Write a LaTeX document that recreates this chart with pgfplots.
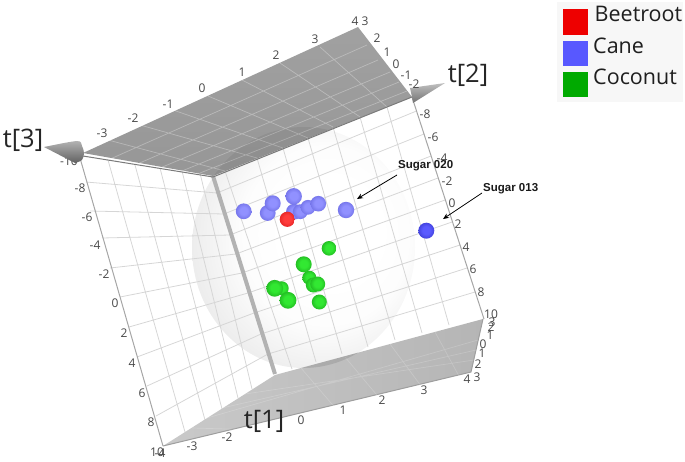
\documentclass[border=0pt]{standalone}
\usepackage{pgfplots}
\pgfplotsset{compat=1.18}
\usepackage{fontspec}
\setmainfont{Open Sans}
\newfontfamily\lab{Liberation Sans}
\definecolor{gridc}{gray}{0.84}
\definecolor{canein}{RGB}{145,145,255}
\definecolor{caneout}{RGB}{105,105,225}
\definecolor{bluein}{RGB}{90,90,255}
\definecolor{blueout}{RGB}{55,55,205}
\definecolor{greenin}{RGB}{50,232,50}
\definecolor{greenout}{RGB}{28,170,28}
\definecolor{redin}{RGB}{255,60,60}
\definecolor{redout}{RGB}{220,30,30}
\definecolor{sp0}{gray}{1}
\definecolor{sp1}{gray}{0.99}
\definecolor{sp2}{gray}{0.92}
\definecolor{sp3}{gray}{0.82}
\pgfdeclareradialshading{sph}{\pgfpoint{8bp}{4bp}}{color(0bp)=(sp0); color(11bp)=(sp0); color(19bp)=(sp1); color(30bp)=(sp2); color(39bp)=(sp3); color(50bp)=(sp3)}
\pgfdeclareradialshading{caneS}{\pgfpoint{0bp}{2bp}}{color(0bp)=(canein); color(12bp)=(canein); color(32bp)=(caneout); color(50bp)=(caneout)}
\pgfdeclareradialshading{blueS}{\pgfpoint{0bp}{2bp}}{color(0bp)=(bluein); color(12bp)=(bluein); color(32bp)=(blueout); color(50bp)=(blueout)}
\pgfdeclareradialshading{greenS}{\pgfpoint{0bp}{2bp}}{color(0bp)=(greenin); color(12bp)=(greenin); color(32bp)=(greenout); color(50bp)=(greenout)}
\pgfdeclareradialshading{redS}{\pgfpoint{0bp}{2bp}}{color(0bp)=(redin); color(12bp)=(redin); color(32bp)=(redout); color(50bp)=(redout)}
\pgfdeclareplotmark{caneB}{\pgfpathcircle{\pgfpointorigin}{\pgfplotmarksize}\pgfshadepath{caneS}{0}\pgfusepath{discard}}
\pgfdeclareplotmark{blueB}{\pgfpathcircle{\pgfpointorigin}{\pgfplotmarksize}\pgfshadepath{blueS}{0}\pgfusepath{discard}}
\pgfdeclareplotmark{greenB}{\pgfpathcircle{\pgfpointorigin}{\pgfplotmarksize}\pgfshadepath{greenS}{0}\pgfusepath{discard}}
\pgfdeclareplotmark{redB}{\pgfpathcircle{\pgfpointorigin}{\pgfplotmarksize}\pgfshadepath{redS}{0}\pgfusepath{discard}}
\usetikzlibrary{arrows.meta}
\tikzset{
 tk/.style={font=\fontsize{12}{12}\selectfont,text=black!72,inner sep=0pt},
 big/.style={font=\fontsize{25.5}{26}\selectfont,text=black!85,inner sep=0pt},
 leg/.style={font=\fontsize{21.5}{22}\selectfont,text=black!88,inner sep=0pt,anchor=west},
 sug/.style={font=\lab\bfseries\fontsize{11.5}{12}\selectfont,text=black!90,inner sep=0pt,anchor=west},
 arr/.style={draw=black,line width=0.8pt,-{Stealth[length=6pt,width=5pt]}}
}
\begin{document}
\begin{tikzpicture}
\begin{axis}[
  scale only axis, width=685pt, height=461pt,
  xmin=0, xmax=685, ymin=0, ymax=461, y dir=reverse,
  hide axis, clip=false, unbounded coords=jump,
  every axis plot/.append style={forget plot}
]
\addplot[draw=none] coordinates {(0,0)(685,461)};
% legend panel
\addplot[draw=none,fill=black!3] coordinates {(557,2)(683,2)(683,102)(557,102)} -- cycle;
% sphere body, behind the grids
\shade[shading=sph] (axis cs:303.5,247.5) ellipse [x radius=111.5pt, y radius=120.5pt];
% left wall grid
\addplot[gridc,line width=0.8pt] coordinates {
 (86,182)(217,193) (nan,nan)
 (90,211)(224,214) (nan,nan)
 (102,238)(230,235) (nan,nan)
 (110,268)(236,254) (nan,nan)
 (120,297)(242,273) (nan,nan)
 (129,327)(248,293) (nan,nan)
 (137,357)(254,313) (nan,nan)
 (147,386)(261,334) (nan,nan)
 (156,416)(268,354) (nan,nan)
 (108,160)(185,432) (nan,nan)
 (135,165)(205,420) (nan,nan)
 (160,168)(222,409) (nan,nan)
 (182,171)(238,398) (nan,nan)
 (200,173)(252,389)
};
% right wall grid
\addplot[gridc,line width=0.8pt] coordinates {
 (217,193)(416.5,111) (nan,nan)
 (224,214)(424,134) (nan,nan)
 (230,235)(431,156) (nan,nan)
 (236,254)(438,178) (nan,nan)
 (242,273)(445,200) (nan,nan)
 (248,293)(452,222) (nan,nan)
 (254,313)(460,245) (nan,nan)
 (261,334)(467,268) (nan,nan)
 (268,354)(475,292) (nan,nan)
 (225,171)(292,369) (nan,nan)
 (257,158)(316,362) (nan,nan)
 (283,148)(342,354) (nan,nan)
 (308,138)(368,347) (nan,nan)
 (333,127)(395,340) (nan,nan)
 (360,117)(422,333) (nan,nan)
 (387,107)(449,325)
};
% wall edges
\addplot[black!35,line width=1pt] coordinates {(80,158)(163,446)};
\addplot[black!35,line width=1pt] coordinates {(412,97)(484,319)};
% bar between the walls
\addplot[black!30,line width=4pt] coordinates {(213,176)(275,374)};
% bottom plane
\addplot[draw=none,left color=black!21,right color=black!29] coordinates {(163,446)(275,375)(483,319)(471,372)} -- cycle;
\addplot[black!38,line width=1pt] coordinates {(163,446)(471,372)(483,319)};
\addplot[white,opacity=0.18,line width=0.7pt] coordinates {
 (192,428)(263,430) (nan,nan) (301,368)(337,410) (nan,nan) (345,357)(381,400) (nan,nan) (390,344)(424,390) (nan,nan) (435,332)(460,378) (nan,nan)
 (200,420)(478,340) (nan,nan) (222,408)(476,350) (nan,nan) (245,394)(474,360)
};
% top plane
\addplot[draw=none,top color=black!37,bottom color=black!41] coordinates {(83,153)(358,27)(412,97)(213,176)} -- cycle;
\addplot[white,opacity=0.3,line width=0.7pt] coordinates {
 (108,140)(225,171) (nan,nan)
 (140,125)(257,158) (nan,nan)
 (173,110)(283,148) (nan,nan)
 (208,96)(308,138) (nan,nan)
 (242,80)(333,127) (nan,nan)
 (280,63)(360,117) (nan,nan)
 (320,47)(387,107) (nan,nan)
 (108,160)(367,45) (nan,nan)
 (135,165)(378,60) (nan,nan)
 (160,168)(390,72) (nan,nan)
 (182,171)(399,82) (nan,nan)
 (200,173)(407,91)
};
\addplot[black!52,line width=1pt] coordinates {(83,156)(213,177)(412,97)};
% the sphere showing through the planes
\begin{scope}
 \clip (axis cs:83,153)--(axis cs:358,27)--(axis cs:412,97)--(axis cs:213,176)--cycle;
 \fill[black,opacity=0.06] (axis cs:303.5,247.5) ellipse [x radius=111.5pt, y radius=120.5pt];
\end{scope}
\begin{scope}
 \clip (axis cs:163,446)--(axis cs:275,375)--(axis cs:483,319)--(axis cs:471,372)--cycle;
 \fill[black,opacity=0.1] (axis cs:303.5,247.5) ellipse [x radius=111.5pt, y radius=120.5pt];
\end{scope}
% tick labels
\node[tk] at (axis cs:69,161) {-10};
% axis cones
\addplot[draw=none,top color=black!30,bottom color=black!62,smooth] coordinates {(44,147)(77,141)(82,146)(84,153)(82,160)(75,163)} -- cycle;
\addplot[draw=none,top color=black!25,bottom color=black!55] coordinates {(445,83)(410,88)(412,97)(413,103)} -- cycle;
\node[tk] at (axis cs:102,133) {-3};\node[tk] at (axis cs:133,118) {-2};\node[tk] at (axis cs:168,104) {-1};
\node[tk] at (axis cs:202,88) {0};\node[tk] at (axis cs:242,72) {1};\node[tk] at (axis cs:276,55) {2};
\node[tk] at (axis cs:315,39) {3};\node[tk] at (axis cs:355,21) {4};\node[tk] at (axis cs:365,21) {3};
\node[tk] at (axis cs:377,38) {2};\node[tk] at (axis cs:387,52) {1};\node[tk] at (axis cs:396,64) {0};
\node[tk] at (axis cs:406,75) {-1};\node[tk] at (axis cs:414,84) {-2};
\node[tk] at (axis cs:80,188) {-8};\node[tk] at (axis cs:87,217) {-6};\node[tk] at (axis cs:95,245) {-4};
\node[tk] at (axis cs:104,274) {-2};\node[tk] at (axis cs:115,303) {0};\node[tk] at (axis cs:124,333) {2};
\node[tk] at (axis cs:132,363) {4};\node[tk] at (axis cs:142,393) {6};\node[tk] at (axis cs:151,422) {8};
\node[tk] at (axis cs:157,452) {10};\node[tk] at (axis cs:160,453) {-4};
\node[tk] at (axis cs:192,446) {-3};\node[tk] at (axis cs:227,437) {-2};\node[tk] at (axis cs:301,420) {0};
\node[tk] at (axis cs:343,410) {1};\node[tk] at (axis cs:382,400) {2};\node[tk] at (axis cs:424,390) {3};
\node[tk] at (axis cs:467,379) {4};\node[tk] at (axis cs:477,377) {3};\node[tk] at (axis cs:478,364) {2};
\node[tk] at (axis cs:482,353) {1};\node[tk] at (axis cs:483,344) {0};\node[tk] at (axis cs:490,335) {1};
\node[tk] at (axis cs:491,327) {2};\node[tk] at (axis cs:492,322) {3};\node[tk] at (axis cs:491,314) {10};
\node[tk] at (axis cs:425,114) {-8};\node[tk] at (axis cs:433,137) {-6};\node[tk] at (axis cs:442,158) {-4};
\node[tk] at (axis cs:447,181) {-2};\node[tk] at (axis cs:452,203) {0};\node[tk] at (axis cs:458,224) {2};
\node[tk] at (axis cs:466,247) {4};\node[tk] at (axis cs:473,269) {6};\node[tk] at (axis cs:481,292) {8};
% axis titles
\node[big] at (axis cs:23,140) {t[3]};
\node[big] at (axis cs:468,75) {t[2]};
\node[big] at (axis cs:264,421) {t[1]};
% cane
\addplot[only marks,mark=caneB,mark size=7.9] coordinates {(243.7,211.3)};
\addplot[only marks,mark=caneB,mark size=7.9] coordinates {(294,211.7)};
\addplot[only marks,mark=caneB,mark size=8.2] coordinates {(293.7,196.3)};
\addplot[only marks,mark=caneB,mark size=7.9] coordinates {(267.7,213)};
\addplot[only marks,mark=caneB,mark size=8] coordinates {(272.7,203.3)};
\addplot[only marks,mark=caneB,mark size=7.4] coordinates {(300.3,211.7)};
\addplot[only marks,mark=caneB,mark size=7.4] coordinates {(308,207.3)};
\addplot[only marks,mark=caneB,mark size=7.8] coordinates {(318.3,203.7)};
\addplot[only marks,mark=caneB,mark size=8.2] coordinates {(346,210)};
\addplot[only marks,mark=blueB,mark size=8] coordinates {(426.3,230.7)};
% beetroot
\addplot[only marks,mark=redB,mark size=7.6] coordinates {(287.3,219.3)};
% coconut
\addplot[only marks,mark=greenB,mark size=7.3] coordinates {(329,248.3)};
\addplot[only marks,mark=greenB,mark size=7] coordinates {(309.3,277.7)};
\addplot[only marks,mark=greenB,mark size=8] coordinates {(303.7,264.3)};
\addplot[only marks,mark=greenB,mark size=7.5] coordinates {(313.3,285)};
\addplot[only marks,mark=greenB,mark size=7.5] coordinates {(317.7,284)};
\addplot[only marks,mark=greenB,mark size=7.5] coordinates {(319.3,302)};
\addplot[only marks,mark=greenB,mark size=7] coordinates {(281.7,288.3)};
\addplot[only marks,mark=greenB,mark size=8.4] coordinates {(274.7,288.3)};
\addplot[only marks,mark=greenB,mark size=8.4] coordinates {(288,300.3)};
% annotations
\draw[arr] (axis cs:397,175) -- (axis cs:357,199);
\draw[arr] (axis cs:482,193) -- (axis cs:443,219);
\node[sug] at (axis cs:398,166) {Sugar 020};
\node[sug] at (axis cs:483,189) {Sugar 013};
% legend
\addplot[draw=none,fill={rgb,255:red,238;green,0;blue,0}] coordinates {(563,9)(588,9)(588,35)(563,35)} -- cycle;
\addplot[draw=none,fill={rgb,255:red,88;green,88;blue,255}] coordinates {(563,41)(588,41)(588,66)(563,66)} -- cycle;
\addplot[draw=none,fill={rgb,255:red,0;green,170;blue,0}] coordinates {(563,72)(588,72)(588,97)(563,97)} -- cycle;
\node[leg] at (axis cs:594.5,14) {Beetroot};
\node[leg] at (axis cs:593,46) {Cane};
\node[leg] at (axis cs:593,77) {Coconut};
\end{axis}
\end{tikzpicture}
\end{document}
